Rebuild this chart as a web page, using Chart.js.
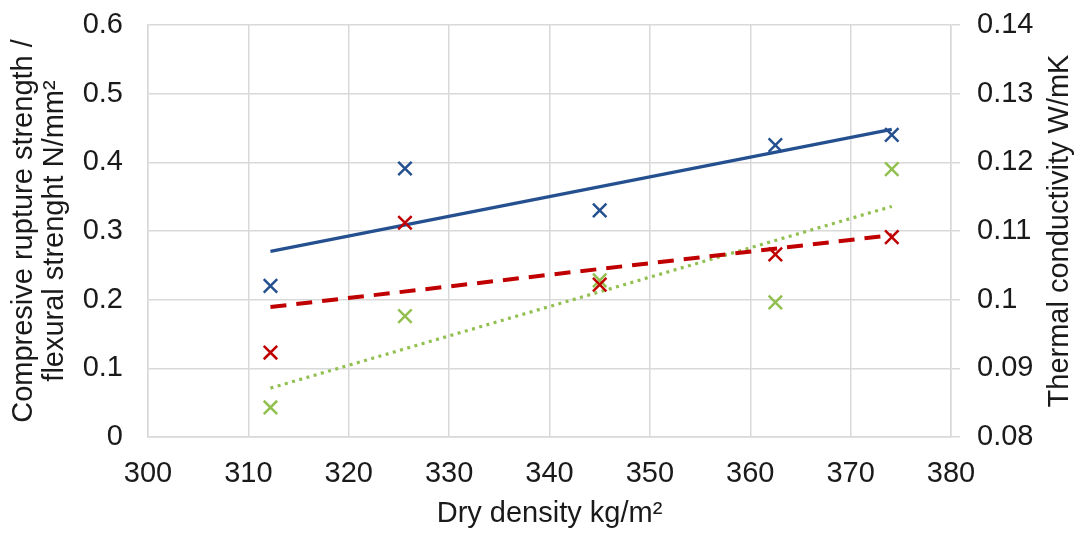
<!DOCTYPE html>
<html>
<head>
<meta charset="utf-8">
<script src="https://cdn.jsdelivr.net/npm/chart.js@4.4.1/dist/chart.umd.min.js"></script>
<style>
  html, body { margin: 0; padding: 0; background: #fff; }
  #wrap { width: 1077px; height: 533px; position: relative; }
</style>
</head>
<body>
<div id="wrap"><canvas id="densityChart"></canvas></div>
<script>
const density = [312.2, 325.6, 345.0, 362.5, 374.1];
const compressive = [0.220, 0.391, 0.330, 0.425, 0.440];
const flexural = [0.123, 0.312, 0.222, 0.266, 0.291];
const conductivity = [0.0843, 0.0976, 0.1028, 0.0996, 0.1190];

const xTicks = [300, 310, 320, 330, 340, 350, 360, 370, 380];
const strengthTicks = [0, 0.1, 0.2, 0.3, 0.4, 0.5, 0.6];
const conductivityTicks = [0.08, 0.09, 0.1, 0.11, 0.12, 0.13, 0.14];

const BLUE = "#25508f";
const RED = "#c00000";
const GREEN = "#92c050";
const GRID = "#d9d9d9";
const TEXT = "#1a1a1a";
const FONT = "'Liberation Sans', Arial, sans-serif";
const SIZE = 29;

function points(ys) {
  return density.map((x, i) => ({ x: x, y: ys[i] }));
}

// linear trend line (least squares), same as excel
function trend(ys) {
  const n = density.length;
  const mx = density.reduce((a, b) => a + b) / n;
  const my = ys.reduce((a, b) => a + b) / n;
  let sxy = 0, sxx = 0;
  density.forEach((x, i) => {
    sxy += (x - mx) * (ys[i] - my);
    sxx += (x - mx) * (x - mx);
  });
  const k = sxy / sxx;
  const x0 = Math.min(...density), x1 = Math.max(...density);
  return [{ x: x0, y: my + k * (x0 - mx) }, { x: x1, y: my + k * (x1 - mx) }];
}

function fixTicks(arr) {
  return function (scale) {
    scale.ticks = arr.map(v => ({ value: v }));
  };
}

// ancho fijo del eje, sin el relleno extra arriba/abajo
function fixWidth(w) {
  return function (scale) {
    scale.width = w;
    scale.paddingTop = 0;
    scale.paddingBottom = 0;
  };
}

const cross = (color, axis) => ({
  type: "scatter",
  yAxisID: axis,
  pointStyle: "crossRot",
  pointRadius: 9.5,
  pointHoverRadius: 9.5,
  pointBorderWidth: 2.5,
  borderColor: color,
  backgroundColor: color,
  showLine: false,
  order: 0
});

const line = (color, axis, dash, width) => ({
  type: "scatter",
  yAxisID: axis,
  showLine: true,
  pointRadius: 0,
  borderColor: color,
  borderWidth: width,
  borderDash: dash,
  borderCapStyle: "butt",
  fill: false,
  order: 1
});

/* titulo eje derecho, leido de abajo hacia arriba */
const rightTitle = {
  id: "rightTitle",
  afterDraw(chart) {
    const ctx = chart.ctx;
    const a = chart.chartArea;
    ctx.save();
    ctx.translate(chart.width - 17, (a.top + a.bottom) / 2);
    ctx.rotate(-Math.PI / 2);
    ctx.font = SIZE + "px " + FONT;
    ctx.fillStyle = TEXT;
    ctx.textAlign = "center";
    ctx.textBaseline = "middle";
    ctx.fillText("Thermal conductivity W/mK", 0, 0);
    ctx.restore();
  }
};

Chart.defaults.font.family = FONT;
Chart.defaults.font.size = SIZE;
Chart.defaults.color = TEXT;

new Chart(document.getElementById("densityChart"), {
  type: "scatter",
  data: {
    datasets: [
      Object.assign(cross(BLUE, "y"), { label: "Compresive strength", data: points(compressive) }),
      Object.assign(cross(RED, "y"), { label: "Flexural strength", data: points(flexural) }),
      Object.assign(cross(GREEN, "y1"), { label: "Thermal conductivity", data: points(conductivity) }),
      Object.assign(line(BLUE, "y", [], 3.3), { label: "Trend compresive", data: trend(compressive) }),
      Object.assign(line(RED, "y", [16, 10], 4), { label: "Trend flexural", data: trend(flexural) }),
      Object.assign(line(GREEN, "y1", [3, 4.5], 3.2), { label: "Trend conductivity", data: trend(conductivity) })
    ]
  },
  plugins: [rightTitle],
  options: {
    responsive: true,
    maintainAspectRatio: false,
    animation: false,
    layout: { padding: { top: 25, right: 0, left: 0, bottom: 0 } },
    plugins: {
      legend: { display: false },
      tooltip: { enabled: false }
    },
    scales: {
      x: {
        type: "linear",
        min: 300,
        max: 380,
        afterBuildTicks: fixTicks(xTicks),
        afterFit: s => { s.height = 96; },
        grid: { color: GRID, lineWidth: 1.5, drawTicks: false },
        border: { color: GRID, width: 1.5 },
        ticks: { padding: 20, maxRotation: 0 },
        title: { display: true, text: "Dry density kg/m²", padding: { top: 0, bottom: 2 } }
      },
      y: {
        position: "left",
        min: 0,
        max: 0.6,
        afterBuildTicks: fixTicks(strengthTicks),
        afterFit: fixWidth(148),
        grid: { color: GRID, lineWidth: 1.5, drawTicks: false },
        border: { color: GRID, width: 1.5 },
        ticks: { padding: 25, callback: v => String(v) },
        title: {
          display: true,
          text: ["Compresive rupture strength /", "flexural strenght N/mm²"],
          font: { size: SIZE, lineHeight: 1.07 },
          padding: { top: 8, bottom: 0 }
        }
      },
      y1: {
        position: "right",
        min: 0.08,
        max: 0.14,
        afterBuildTicks: fixTicks(conductivityTicks),
        afterFit: fixWidth(126),
        grid: { color: GRID, lineWidth: 1.5, drawOnChartArea: false, drawTicks: true, tickLength: 9 },
        border: { color: GRID, width: 1.5 },
        ticks: { padding: 17, callback: v => String(v) }
      }
    }
  }
});
</script>
</body>
</html>
